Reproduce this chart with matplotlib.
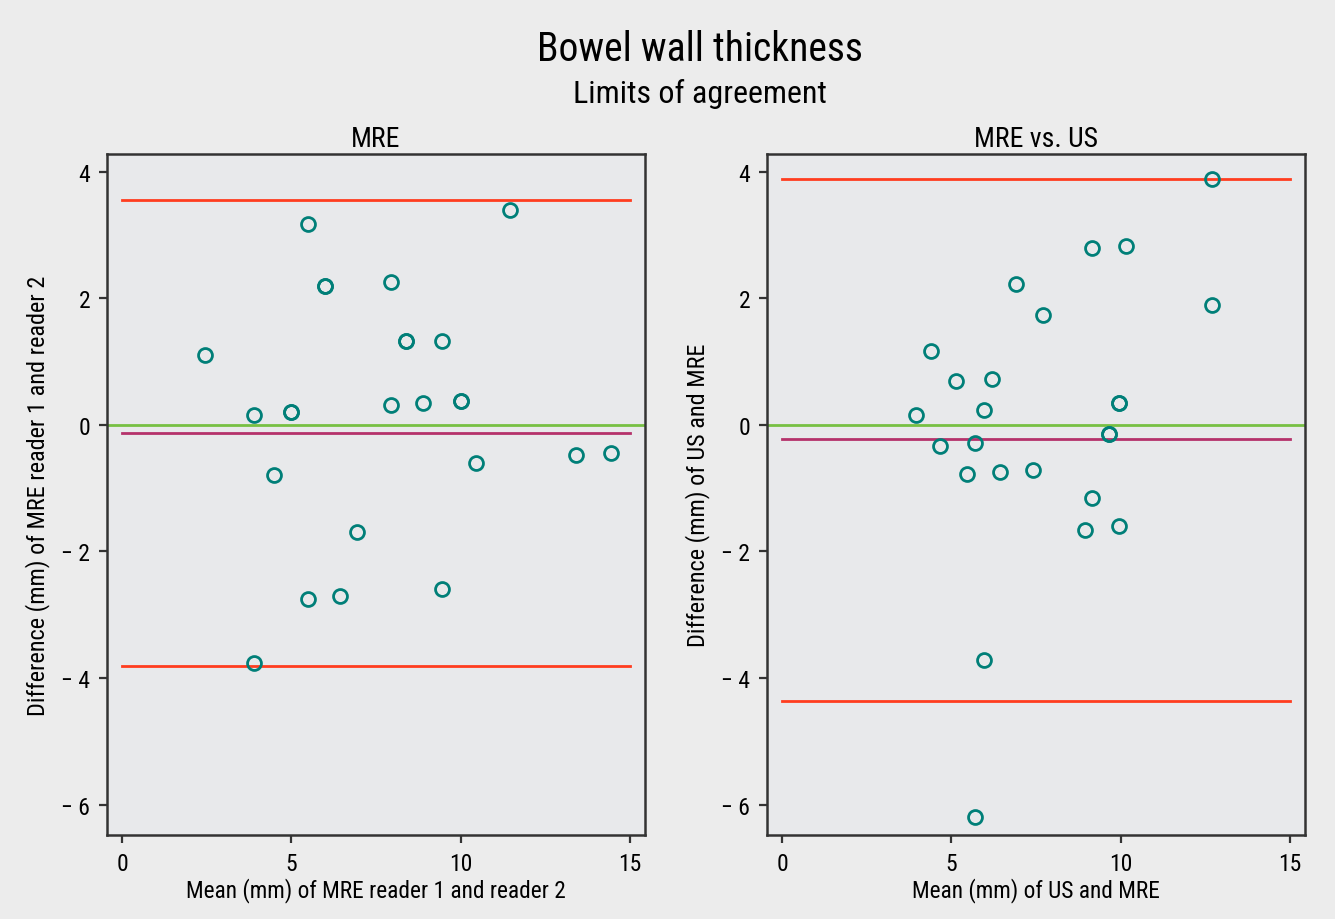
import numpy as np
import matplotlib.pyplot as plt
from matplotlib import font_manager
from matplotlib.ticker import FuncFormatter

# condensed face if one is installed, otherwise a plain sans
_installed = {f.name for f in font_manager.fontManager.ttflist}
_wanted = ["Liberation Sans Narrow", "DejaVu Sans Condensed", "Roboto Condensed",
           "Open Sans Condensed", "Open Sans"]
_pick = [f for f in _wanted if f in _installed][:1]
plt.rcParams["font.family"] = _pick + ["DejaVu Sans"]
CONDENSED = bool(_pick) and _pick[0] != "Open Sans"

# MRE reader 1 vs reader 2
mre_mean = [2.45, 3.9, 5.0, 5.0, 5.5, 6.0, 6.0, 7.95, 8.4, 8.4, 9.45, 7.95, 8.9,
            10.0, 10.0, 11.45, 4.5, 10.45, 13.4, 14.45, 6.95, 5.5, 6.45, 9.45, 3.9]
mre_diff = [1.1, 0.16, 0.2, 0.2, 3.17, 2.19, 2.19, 2.26, 1.32, 1.32, 1.32, 0.31, 0.35,
            0.38, 0.38, 3.4, -0.79, -0.6, -0.47, -0.44, -1.69, -2.75, -2.7, -2.59, -3.76]
mre_limits = [3.55, -3.81]
mre_bias = -0.13

# MRE vs US
us_mean = [12.7, 9.15, 10.15, 6.9, 7.7, 12.7, 4.4, 5.15, 6.2, 3.95, 5.95, 9.95, 9.95,
           9.65, 9.65, 4.65, 5.7, 5.45, 6.45, 7.4, 9.15, 8.95, 9.95, 5.95, 5.7]
us_diff = [3.89, 2.79, 2.83, 2.23, 1.74, 1.9, 1.17, 0.7, 0.73, 0.16, 0.24, 0.35, 0.35,
           -0.14, -0.14, -0.33, -0.28, -0.77, -0.74, -0.71, -1.16, -1.66, -1.6, -3.71, -6.19]
us_limits = [3.89, -4.36]
us_bias = -0.22

panels = [
    ("MRE", mre_mean, mre_diff, mre_limits, mre_bias,
     "Mean (mm) of MRE reader 1 and reader 2",
     "Difference (mm) of MRE reader 1 and reader 2"),
    ("MRE vs. US", us_mean, us_diff, us_limits, us_bias,
     "Mean (mm) of US and MRE",
     "Difference (mm) of US and MRE"),
]


def fmt(v, pos):
    v = int(round(v))
    return "\u2212 %d" % abs(v) if v < 0 else "%d" % v


def main():
    k = 1.0 if CONDENSED else 0.88
    fig = plt.figure(figsize=(13.35, 9.2), dpi=100, facecolor="#ececec")
    fig.text(0.524, 0.946, "Bowel wall thickness", ha="center", va="center",
             fontsize=28.5 * k)
    fig.text(0.524, 0.898, "Limits of agreement", ha="center", va="center",
             fontsize=23 * k)

    lefts = [0.0801, 0.5745]
    for left, (title, xm, yd, lim, bias, xlab, ylab) in zip(lefts, panels):
        ax = fig.add_axes([left, 0.0913, 0.403, 0.7402])
        ax.set_facecolor("#e8e9eb")
        ax.axhline(0, color="#77c043", lw=2, zorder=1)
        for v in lim:
            ax.plot([0, 15], [v, v], color="#ff3d1f", lw=2, zorder=2)
        ax.plot([0, 15], [bias, bias], color="#b5326b", lw=2, zorder=2)
        ax.plot(xm, yd, "o", mfc="none", mec="#007f78", ms=10, mew=2, zorder=3)

        ax.set_xlim(-0.45, 15.45)
        ax.set_ylim(-6.48, 4.28)
        ax.set_xticks([0, 5, 10, 15])
        ax.set_yticks([-6, -4, -2, 0, 2, 4])
        ax.xaxis.set_major_formatter(FuncFormatter(fmt))
        ax.yaxis.set_major_formatter(FuncFormatter(fmt))
        ax.tick_params(direction="out", length=6, width=1.6, color="#333333",
                       labelsize=17 * k, pad=6)
        for sp in ax.spines.values():
            sp.set_color("#333333")
            sp.set_linewidth(1.8)
        ax.set_title(title, fontsize=20 * k, pad=6)
        ax.set_xlabel(xlab, fontsize=16.8 * k, labelpad=2)
        ax.set_ylabel(ylab, fontsize=17.5 * k, labelpad=8)

    return fig


if __name__ == "__main__":
    fig = main()
    fig.savefig("out.png", dpi=100, facecolor=fig.get_facecolor())
